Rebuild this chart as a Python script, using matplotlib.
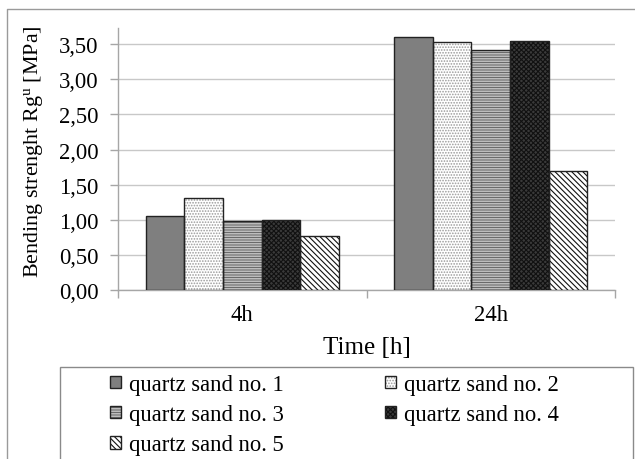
import matplotlib
matplotlib.use("Agg")
import matplotlib.pyplot as plt
from matplotlib.lines import Line2D
from matplotlib.patches import Rectangle
import numpy as np

plt.rcParams['font.family'] = ['Liberation Serif', 'DejaVu Serif']
plt.rcParams['mathtext.fontset'] = 'custom'
plt.rcParams['mathtext.rm'] = 'Liberation Serif'
plt.rcParams['mathtext.it'] = 'Liberation Serif:italic'
plt.rcParams['hatch.linewidth'] = 0.8

categories = ['4h', '24h']
series_names = ['quartz sand no. 1', 'quartz sand no. 2', 'quartz sand no. 3',
                'quartz sand no. 4', 'quartz sand no. 5']
sand1 = [1.05, 3.60]
sand2 = [1.31, 3.53]
sand3 = [0.98, 3.41]
sand4 = [1.00, 3.54]
sand5 = [0.77, 1.69]
series_values = [sand1, sand2, sand3, sand4, sand5]
yticks = [0.0, 0.5, 1.0, 1.5, 2.0, 2.5, 3.0, 3.5]
ytick_labels = ['0,00', '0,50', '1,00', '1,50', '2,00', '2,50', '3,00', '3,50']

styles = [
    dict(face='#7f7f7f', hatch=None, hcolor='#7f7f7f'),
    dict(face='white', hatch='......', hcolor='#9a9a9a'),
    dict(face='white', hatch='----------', hcolor='#6a6a6a'),
    dict(face='#3a3a3a', hatch='xxxxxxx', hcolor='#111111'),
    dict(face='white', hatch='\\\\\\\\\\\\', hcolor='#111111'),
]

W, H = 635, 460
fig = plt.figure(figsize=(W / 100, H / 100), dpi=100)
ax = fig.add_axes([118 / W, 1 - 291 / H, (615 - 118) / W, (291 - 29) / H])

x = np.arange(len(categories))
bw = 0.155
handles = []
for i, (name, vals, st) in enumerate(zip(series_names, series_values, styles)):
    pos = x + (i - 2) * bw
    b1 = ax.bar(pos, vals, bw, color=st['face'], hatch=st['hatch'],
                edgecolor=st['hcolor'], linewidth=0, zorder=3)
    b2 = ax.bar(pos, vals, bw, fill=False, edgecolor='#222222',
                linewidth=1.0, zorder=4)
    handles.append((b1.patches[0], b2.patches[0]))

ax.set_xlim(-0.5, 1.5)
ax.set_ylim(0, 3.73)
ax.set_yticks(yticks)
ax.set_yticklabels(ytick_labels, fontsize=16.3)
ax.set_xticks(x)
ax.set_xticklabels(categories, fontsize=16.3)
ax.set_xticks([-0.5, 0.5, 1.5], minor=True)
ax.tick_params(axis='x', which='major', length=0, pad=10)
ax.tick_params(axis='x', which='minor', length=6, color='#a6a6a6', width=1)
ax.tick_params(axis='y', length=6, color='#a6a6a6', width=1, pad=8)
ax.yaxis.grid(True, color='#c8c8c8', linewidth=1, zorder=0)
ax.set_axisbelow(True)
for s in ['top', 'right']:
    ax.spines[s].set_visible(False)
for s in ['left', 'bottom']:
    ax.spines[s].set_color('#a6a6a6')
    ax.spines[s].set_linewidth(1)
ax.set_xlabel('Time [h]', fontsize=18, labelpad=8)
ax.set_ylabel(r'Bending strenght Rg$^{\mathrm{u}}$ [MPa]', fontsize=15.8)
ax.yaxis.set_label_coords(-0.147, 0.53)

# figure border
fig.add_artist(Line2D([7 / W, 7 / W, 1.02], [-0.02, 1 - 10 / H, 1 - 10 / H],
                      transform=fig.transFigure, color='#9a9a9a', linewidth=1))
# legend box
fig.add_artist(Rectangle((60 / W, -0.05), (633 - 60) / W, (1 - 368 / H) + 0.05,
                         transform=fig.transFigure, fill=False,
                         edgecolor='#8a8a8a', linewidth=1))

order = [0, 2, 4, 1, 3]
leg = fig.legend([handles[k] for k in order], [series_names[k] for k in order],
                 ncol=2, loc='upper left', bbox_to_anchor=(110 / W, 1 - 375 / H),
                 frameon=False, fontsize=16.3, handlelength=0.5, handleheight=0.5,
                 handletextpad=0.35, columnspacing=4.45, labelspacing=0.4,
                 borderaxespad=0, borderpad=0)

fig.savefig('out.png', dpi=100)
